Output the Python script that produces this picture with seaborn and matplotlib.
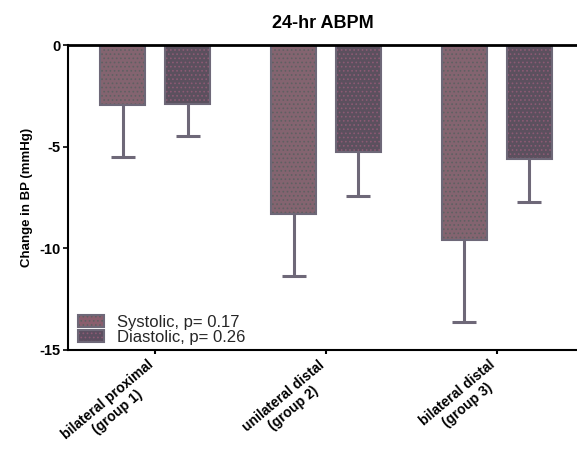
import numpy as np
import pandas as pd
import matplotlib
matplotlib.use('Agg')
import matplotlib.pyplot as plt
import matplotlib.colors as mcolors
from matplotlib.patches import Patch
from matplotlib.transforms import ScaledTranslation
import seaborn as sns

groups = ["bilateral proximal\n(group 1)", "unilateral distal\n(group 2)", "bilateral distal\n(group 3)"]
series = ["Systolic, p= 0.17", "Diastolic, p= 0.26"]
systolic = [-2.96, -8.33, -9.63]
diastolic = [-2.92, -5.26, -5.62]
systolic_err = [2.54, 3.05, 4.02]
diastolic_err = [1.56, 2.18, 2.10]
yticks = [0, -5, -10, -15]

fills = ['#8a5e6e', '#5c4e60']
dots = ['#5f6062', '#8c5a74']
edge = '#6e6878'

sns.set_theme(style='white')
plt.rcParams['font.family'] = ['Liberation Sans', 'DejaVu Sans']
plt.rcParams['hatch.linewidth'] = 0.7

df = pd.DataFrame({
    'group': groups * 2,
    'series': [series[0]] * 3 + [series[1]] * 3,
    'value': systolic + diastolic,
})

fig = plt.figure(figsize=(5.77, 4.5), dpi=100)
ax = fig.add_axes([68 / 577, (450 - 349.5) / 450, (577 - 68) / 577, 304.5 / 450])

sns.barplot(data=df, x='group', y='value', hue='series', hue_order=series, order=groups,
            palette=fills, width=0.76, gap=0.3, errorbar=None, edgecolor=edge,
            linewidth=1.5, ax=ax, zorder=2, legend=False)

for cont, dc in zip(ax.containers, dots):
    for p in cont:
        p.set_hatch('....')
        p._hatch_color = mcolors.to_rgba(dc)

for cont, vals, errs in zip(ax.containers, [systolic, diastolic], [systolic_err, diastolic_err]):
    xs = [p.get_x() + p.get_width() / 2 for p in cont]
    eb = ax.errorbar(xs, vals, yerr=[errs, [0] * len(errs)], fmt='none', ecolor=edge,
                     elinewidth=2.2, capsize=8.3, capthick=2.2, zorder=1)
    for cl in eb[1]:
        if np.allclose(cl.get_ydata(), vals):
            cl.set_visible(False)

ax.set_xlim(-0.509, 2.468)
ax.set_ylim(-15, 0)

for s in ['top', 'left', 'bottom']:
    ax.spines[s].set_visible(True)
    ax.spines[s].set_color('black')
ax.spines['top'].set_linewidth(2)
ax.spines['left'].set_linewidth(1.5)
ax.spines['bottom'].set_linewidth(1.5)
ax.spines['right'].set_visible(False)

ax.set_yticks(yticks)
ax.set_yticklabels([str(t) for t in yticks], fontweight='bold', fontsize=10.5)
ax.tick_params(axis='y', left=True, direction='out', length=3.6, width=1.2, pad=2, colors='black')
ax.set_xticks(range(len(groups)))
ax.set_xticklabels(groups, rotation=40, ha='right', va='top', rotation_mode='anchor',
                   fontweight='bold', fontsize=10, multialignment='center')
ax.tick_params(axis='x', bottom=True, direction='out', length=3, width=1.5, pad=3, colors='black')
offset = ScaledTranslation(-0.08, 0.0, fig.dpi_scale_trans)
for lbl in ax.get_xticklabels():
    lbl.set_transform(lbl.get_transform() + offset)

ax.set_xlabel('')
ax.set_ylabel('Change in BP (mmHg)', fontsize=9.5, fontweight='bold', color='black')
ax.yaxis.set_label_coords(-0.069, 0.5)
ax.set_title('24-hr ABPM', fontsize=13, fontweight='bold', pad=12, color='black')

handles = []
for i in range(2):
    h = Patch(facecolor=fills[i], edgecolor=edge, linewidth=1.5, hatch='....', label=series[i])
    h._hatch_color = mcolors.to_rgba(dots[i])
    handles.append(h)
ax.legend(handles=handles, loc='lower left', bbox_to_anchor=(0.02, 0.015), frameon=False,
          fontsize=12, handlelength=1.56, handleheight=0.7, handletextpad=0.75,
          labelspacing=0.0, borderpad=0, borderaxespad=0)

fig.savefig('out.png', dpi=100)
